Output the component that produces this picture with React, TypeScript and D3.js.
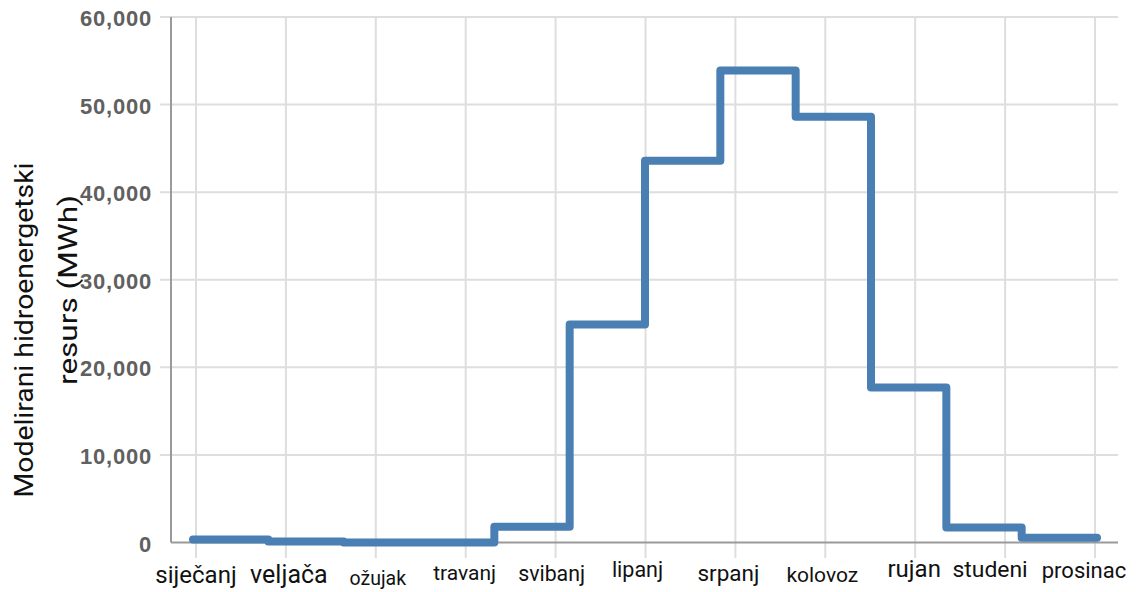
import React from "react";
import * as d3 from "d3";

// ---- data ----
const months = ["1", "2", "3", "4", "5", "6", "7", "8", "9", "10", "11", "12"];
const values = [350, 120, 0, 0, 1800, 24900, 43600, 53900, 48600, 17700, 1700, 550];
const tickLabels = ["siječanj", "veljača", "ožujak", "travanj", "svibanj", "lipanj", "srpanj", "kolovoz", "rujan", "studeni", "prosinac"];
const yTicks = [0, 10000, 20000, 30000, 40000, 50000, 60000];

// per-label typographic tweaks (font size, horizontal nudge, baseline)
const labelStyle = [
  { fs: 24, dx: 0, by: 583 },
  { fs: 25, dx: 3, by: 583 },
  { fs: 19.5, dx: 2, by: 585 },
  { fs: 21, dx: -1, by: 580 },
  { fs: 21.3, dx: -4, by: 581 },
  { fs: 21.5, dx: -8, by: 577 },
  { fs: 22.5, dx: -7, by: 581 },
  { fs: 21, dx: -3, by: 582 },
  { fs: 24, dx: -1, by: 577 },
  { fs: 22.9, dx: -15, by: 577 },
  { fs: 22, dx: -11, by: 578 },
];

const W = 1136;
const H = 592;
const top = 17;
const bottom = 542.5;

export default function App() {
  const y = d3.scaleLinear().domain([0, 60000]).range([bottom, top]);
  const xData = d3.scaleLinear().domain([0, months.length]).range([193, 1097]);
  const xTick = d3.scalePoint<string>().domain(tickLabels).range([196, 1095]);

  const pts: [number, number][] = values.map((v, i) => [i, v]);
  pts.push([months.length, values[values.length - 1]]);
  const line = d3
    .line<[number, number]>()
    .x((d) => xData(d[0]))
    .y((d) => y(d[1]))
    .curve(d3.curveStepAfter);

  const fmt = d3.format(",");

  return (
    <svg
      width={W}
      height={H}
      style={{ position: "absolute", left: 0, top: 0, background: "#fff" }}
    >
      {/* horizontal grid */}
      {yTicks.map((t) =>
        t === 0 ? null : (
          <line key={"h" + t} x1={160} x2={1118} y1={y(t)} y2={y(t)} stroke="#dedede" strokeWidth={2} />
        )
      )}
      {/* vertical grid */}
      {tickLabels.map((l) => (
        <line key={"v" + l} x1={xTick(l)} x2={xTick(l)} y1={top} y2={558} stroke="#dedede" strokeWidth={2} />
      ))}
      {/* axes */}
      <line x1={171} x2={171} y1={top} y2={y(0)} stroke="#9a9a9a" strokeWidth={2} />
      <line x1={171} x2={1118} y1={y(0)} y2={y(0)} stroke="#9a9a9a" strokeWidth={2} />

      {/* y tick labels */}
      {yTicks.map((t) => (
        <text
          key={"yl" + t}
          x={152}
          y={y(t) + 9}
          textAnchor="end"
          fontFamily="'Liberation Sans', Arial, sans-serif"
          fontSize={22}
          letterSpacing={0.8}
          fill="#606060"
          fontWeight={600}
        >
          {fmt(t)}
        </text>
      ))}

      {/* x tick labels */}
      {tickLabels.map((l, i) => (
        <text
          key={"xl" + l}
          x={(xTick(l) ?? 0) + labelStyle[i].dx}
          y={labelStyle[i].by}
          textAnchor="middle"
          fontFamily="Roboto, 'Noto Sans', sans-serif"
          fontSize={labelStyle[i].fs}
          fill="#111"
        >
          {l}
        </text>
      ))}

      {/* y axis title */}
      <g transform="translate(33,330) rotate(-90)">
        <text
          textAnchor="middle"
          fontFamily="Roboto, 'Noto Sans', sans-serif"
          fontSize={26}
          fill="#111"
          textLength={335}
          lengthAdjust="spacingAndGlyphs"
        >
          Modelirani hidroenergetski
        </text>
      </g>
      <g transform="translate(77,290) rotate(-90)">
        <text
          textAnchor="middle"
          fontFamily="Roboto, 'Noto Sans', sans-serif"
          fontSize={26}
          fill="#111"
          textLength={190}
          lengthAdjust="spacingAndGlyphs"
        >
          resurs (MWh)
        </text>
      </g>

      {/* step line */}
      <path
        d={line(pts) ?? ""}
        fill="none"
        stroke="#4a7fb3"
        strokeWidth={8}
        strokeLinejoin="round"
        strokeLinecap="round"
      />
    </svg>
  );
}
